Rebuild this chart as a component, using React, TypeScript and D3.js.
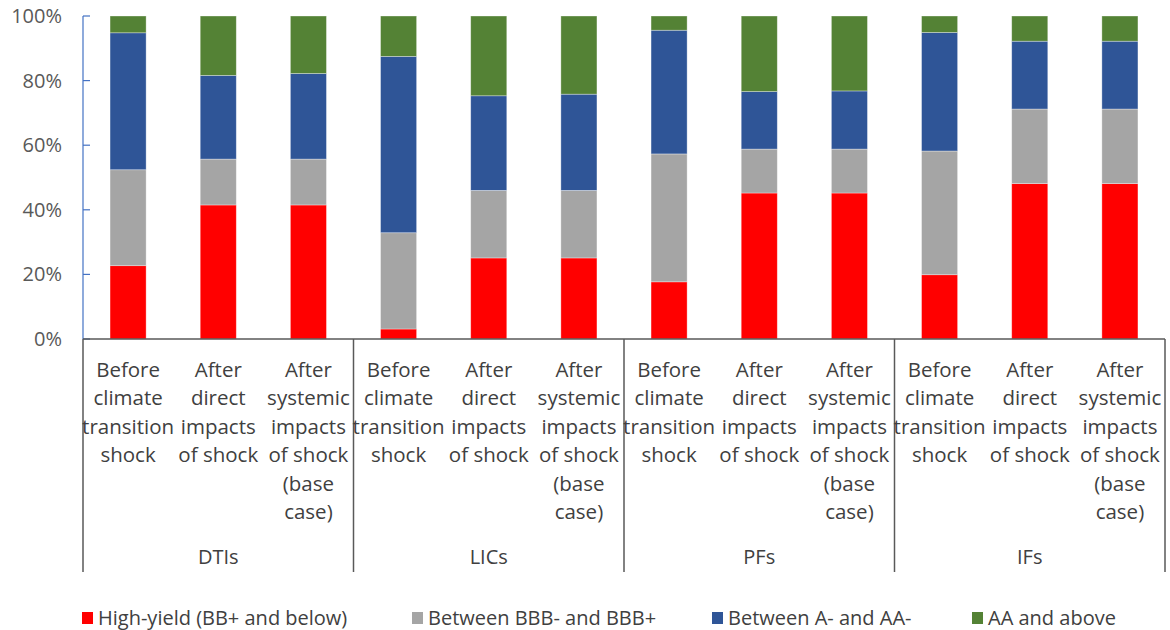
import React from "react";
import * as d3 from "d3";

const groups = ["DTIs", "LICs", "PFs", "IFs"];
const stages = [
  ["Before", "climate", "transition", "shock"],
  ["After", "direct", "impacts", "of shock"],
  ["After", "systemic", "impacts", "of shock", "(base", "case)"],
];
const seriesNames = [
  "High-yield (BB+ and below)",
  "Between BBB- and BBB+",
  "Between A- and AA-",
  "AA and above",
];
const seriesColors = ["#FF0000", "#A5A5A5", "#2F5597", "#548235"];

const highYield = [22.7, 41.5, 41.5, 3.1, 25.1, 25.1, 17.7, 45.2, 45.2, 19.9, 48.1, 48.1];
const bbb = [29.7, 14.2, 14.2, 29.8, 20.9, 20.9, 39.6, 13.6, 13.6, 38.3, 23.1, 23.1];
const aRange = [42.4, 25.9, 26.5, 54.6, 29.3, 29.8, 38.3, 17.8, 18.0, 36.7, 21.0, 21.0];
const aaAbove = [5.2, 18.4, 17.8, 12.5, 24.7, 24.2, 4.4, 23.4, 23.2, 5.1, 7.8, 7.8];

const yTicks = [0, 20, 40, 60, 80, 100];

const W = 1170;
const H = 630;
const left = 83;
const right = 1165;
const top = 16;
const bottom = 339;
const FONT = "'Open Sans', 'Noto Sans', sans-serif";

export default function App() {
  const cats: string[] = [];
  groups.forEach((g) => stages.forEach((_, i) => cats.push(`${g}-${i}`)));
  const rows = cats.map((c, i) => ({
    key: c,
    hy: highYield[i],
    bbb: bbb[i],
    a: aRange[i],
    aa: aaAbove[i],
  }));
  const keys = ["hy", "bbb", "a", "aa"];
  const stacked = d3.stack<any>().keys(keys)(rows);

  const x = d3.scaleBand().domain(cats).range([left, right]).paddingInner(0.6).paddingOuter(0.3);
  const y = d3.scaleLinear().domain([0, 100]).range([bottom, top]);
  const step = x.step();
  const groupStart = (gi: number) => left + gi * 3 * step;

  const lineH = 28.4;
  const firstBaseline = 377;

  const legendX = [82, 412, 712, 972];

  return (
    <svg
      width={W}
      height={H}
      style={{ position: "absolute", left: 0, top: 0, background: "#fff" }}
      fontFamily={FONT}
    >
      {/* bars */}
      {stacked.map((s, si) => (
        <g key={si} fill={seriesColors[si]}>
          {s.map((d, i) => (
            <rect
              key={i}
              x={x(cats[i])}
              width={x.bandwidth()}
              y={y(d[1])}
              height={y(d[0]) - y(d[1])}
              stroke="#ffffff"
              strokeOpacity={0.45}
              strokeWidth={0.75}
            />
          ))}
        </g>
      ))}

      {/* y axis */}
      <line x1={left} x2={left} y1={y(100)} y2={bottom} stroke="#4472C4" strokeWidth={1.2} />
      {yTicks.map((t) => (
        <g key={t}>
          <line x1={left} x2={left + 7} y1={y(t)} y2={y(t)} stroke="#4472C4" strokeWidth={1.2} />
          <text
            x={62}
            y={y(t)}
            dy="0.35em"
            textAnchor="end"
            fontSize={20}
            fill="#595959"
          >
            {t}%
          </text>
        </g>
      ))}

      {/* x axis */}
      <line x1={left} x2={right} y1={bottom} y2={bottom} stroke="#595959" strokeWidth={1.5} />
      {groups.map((g, gi) => (
        <line
          key={g}
          x1={groupStart(gi)}
          x2={groupStart(gi)}
          y1={bottom}
          y2={572}
          stroke="#595959"
          strokeWidth={1.5}
        />
      ))}
      <line x1={right} x2={right} y1={bottom} y2={572} stroke="#595959" strokeWidth={1.5} />

      {/* category labels */}
      {cats.map((c, i) => {
        const lines = stages[i % 3];
        const cx = (x(c) as number) + x.bandwidth() / 2;
        return (
          <text key={c} textAnchor="middle" fontSize={20.5} fill="#404040">
            {lines.map((l, li) => (
              <tspan key={li} x={cx} y={firstBaseline + li * lineH}>
                {l}
              </tspan>
            ))}
          </text>
        );
      })}

      {/* group labels */}
      {groups.map((g, gi) => (
        <text
          key={g}
          x={groupStart(gi) + 1.5 * step}
          y={564}
          textAnchor="middle"
          fontSize={20}
          fill="#404040"
        >
          {g}
        </text>
      ))}

      {/* legend */}
      {seriesNames.map((n, i) => (
        <g key={n}>
          <rect x={legendX[i]} y={612} width={11} height={12} fill={seriesColors[i]} />
          <text x={legendX[i] + 16} y={618} dy="0.35em" fontSize={20} fill="#404040">
            {n}
          </text>
        </g>
      ))}
    </svg>
  );
}
